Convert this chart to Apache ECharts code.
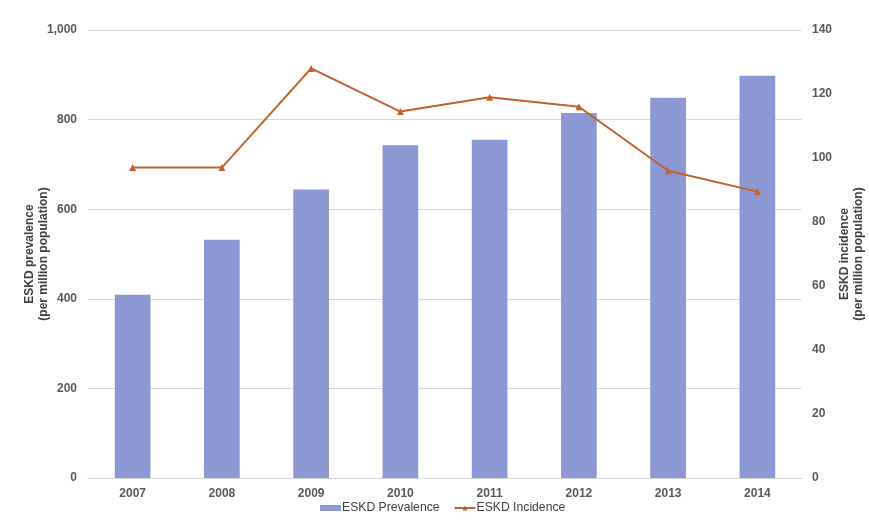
<!DOCTYPE html>
<html><head><meta charset="utf-8">
<script src="https://cdn.jsdelivr.net/npm/echarts@6/dist/echarts.min.js"></script>
<style>html,body{margin:0;padding:0;background:#fff}#c{width:869px;height:522px}</style>
</head><body><div id="c"></div>
<script>
var years = ['2007','2008','2009','2010','2011','2012','2013','2014'];
var prevalence = [409, 532, 644, 743, 755, 815, 849, 898];
var incidence = [97, 97, 128, 114.5, 119, 116, 96, 89.5];

var chart = echarts.init(document.getElementById('c'));
var lab = {color:'#595959', fontFamily:'Liberation Sans, Arial', fontWeight:'bold', fontSize:12};
var nameStyle = {color:'#404040', fontFamily:'Liberation Sans, Arial', fontWeight:'bold', fontSize:12, lineHeight:14};
chart.setOption({
  animation:false,
  grid:{left:88, right:67, top:30, bottom:44, containLabel:false, outerBoundsMode:'none'},
  legend:{
    bottom:3, left:315, itemGap:14, itemWidth:21, itemHeight:6,
    textStyle:{color:'#404040', fontFamily:'Liberation Sans, Arial', fontSize:12.2, padding:[0,0,0,-4]},
    data:[{name:'ESKD Prevalence', icon:'rect'},{name:'ESKD Incidence'}]
  },
  xAxis:{type:'category', data:years,
    axisLine:{lineStyle:{color:'#d9d9d9'}}, axisTick:{show:false},
    axisLabel:Object.assign({margin:10}, lab)},
  yAxis:[
    {type:'value', min:0, max:1000, interval:200, position:'left',
     name:'ESKD prevalence\n(per million population)', nameLocation:'middle', nameGap:37, nameRotate:90,
     nameMoveOverlap:false,
     nameTextStyle:nameStyle,
     axisLabel:Object.assign({margin:11, formatter:function(v){return v.toLocaleString('en-US');}}, lab),
     axisLine:{show:false}, axisTick:{show:false},
     splitLine:{lineStyle:{color:'#d9d9d9'}}},
    {type:'value', min:0, max:140, interval:20, position:'right',
     name:'ESKD incidence\n(per million population)', nameLocation:'middle', nameGap:36, nameRotate:90,
     nameMoveOverlap:false,
     nameTextStyle:nameStyle,
     axisLabel:Object.assign({margin:10}, lab),
     axisLine:{show:false}, axisTick:{show:false}, splitLine:{show:false}}
  ],
  series:[
    {name:'ESKD Prevalence', type:'bar', data:prevalence, barWidth:'40%', yAxisIndex:0,
     itemStyle:{color:'#8b98d4'}},
    {name:'ESKD Incidence', type:'line', data:incidence, yAxisIndex:1,
     symbol:'triangle', symbolSize:7, showAllSymbol:true,
     lineStyle:{color:'#c0622a', width:2}, itemStyle:{color:'#c0622a'}}
  ]
});
</script></body></html>
